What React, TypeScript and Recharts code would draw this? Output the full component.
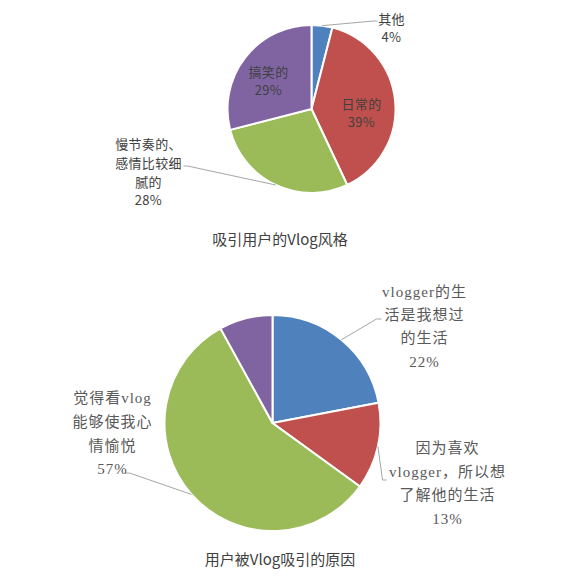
import React from "react";
import { PieChart, Pie, Cell } from "recharts";

const styleNames = ["其他", "日常的", "慢节奏的、感情比较细腻的", "搞笑的"];
const styleValues = [4, 39, 28, 29];
const styleLabelLines = [["其他", "4%"], ["日常的", "39%"], ["慢节奏的、", "感情比较细", "腻的", "28%"], ["搞笑的", "29%"]];

const reasonNames = ["vlogger的生活是我想过的生活", "因为喜欢vlogger，所以想了解他的生活", "觉得看vlog能够使我心情愉悦", "其他"];
const reasonValues = [22, 13, 57, 8];
const reasonLabelLines = [["vlogger的生", "活是我想过", "的生活", "22%"], ["因为喜欢", "vlogger，所以想", "了解他的生活", "13%"], ["觉得看vlog", "能够使我心", "情愉悦", "57%"], []];

const COLORS = ["#4F81BD", "#C0504D", "#9BBB59", "#8064A2"];

const styleData = styleNames.map((name, i) => ({ name, value: styleValues[i] }));
const reasonData = reasonNames.map((name, i) => ({ name, value: reasonValues[i] }));

// label layout relative to pie centre: text centre dx, line dys, optional leader end points
const styleLayout = [
  { dx: 80, dys: [-91, -73], leader: [[62, -88], [66, -88]] },
  { dx: 50, dys: [-6, 12] },
  { dx: -163, dys: [34, 53, 72, 90], leader: [[-124, 57], [-128, 57]] },
  { dx: -43, dys: [-38, -20] },
];
const reasonLayout = [
  { dx: 152, dys: [-131, -108, -85, -61], leader: [[104, -104], [109, -104]] },
  { dx: 175, dys: [25, 49, 72, 96], leader: [[110, 57], [114, 57]] },
  { dx: -160, dys: [-25, -1, 23, 46], leader: [[-143, 50], [-148, 50]] },
  { dx: 0, dys: [] },
];

const RAD = Math.PI / 180;

function makeLabel(layout: any[], lines: string[][], fill: string, fontFamily: string, fontSize: number, letterSpacing: number) {
  return (props: any) => {
    const { cx, cy, midAngle, outerRadius, index } = props;
    const L = layout[index];
    const ls = lines[index];
    if (!L || !ls || ls.length === 0) return null;
    const ex = cx + outerRadius * Math.cos(-midAngle * RAD);
    const ey = cy + outerRadius * Math.sin(-midAngle * RAD);
    let pts = "";
    if (L.leader) {
      pts = `${ex},${ey} ` + L.leader.map((p: number[]) => `${cx + p[0]},${cy + p[1]}`).join(" ");
    }
    return (
      <g>
        {L.leader && <polyline points={pts} fill="none" stroke="#A6A6A6" strokeWidth={1} />}
        {ls.map((t, k) => (
          <text
            key={k}
            x={cx + L.dx}
            y={cy + L.dys[k]}
            textAnchor="middle"
            dominantBaseline="central"
            fill={fill}
            fontFamily={fontFamily}
            fontSize={fontSize}
            letterSpacing={letterSpacing}
          >
            {t}
          </text>
        ))}
      </g>
    );
  };
}

const sansFont = "'Noto Sans CJK SC', 'Noto Sans', sans-serif";
const serifFont = "'Liberation Serif', 'Noto Sans CJK SC', serif";

export default function App() {
  return (
    <div style={{ position: "relative", width: 564, height: 577, background: "#fff" }}>
      <PieChart width={564} height={577} margin={{ top: 0, right: 0, bottom: 0, left: 0 }}>
        <Pie
          data={styleData}
          dataKey="value"
          nameKey="name"
          cx={303.5}
          cy={101}
          outerRadius={84}
          startAngle={90}
          endAngle={-270}
          stroke="#fff"
          strokeWidth={2}
          isAnimationActive={false}
          labelLine={false}
          label={makeLabel(styleLayout, styleLabelLines, "#404040", sansFont, 13, 0.3)}
        >
          {styleData.map((d, i) => (
            <Cell key={d.name} fill={COLORS[i]} />
          ))}
        </Pie>
        <Pie
          data={reasonData}
          dataKey="value"
          nameKey="name"
          cx={264.5}
          cy={415}
          outerRadius={108}
          startAngle={90}
          endAngle={-270}
          stroke="#fff"
          strokeWidth={2}
          isAnimationActive={false}
          labelLine={false}
          label={makeLabel(reasonLayout, reasonLabelLines, "#595959", serifFont, 15, 1)}
        >
          {reasonData.map((d, i) => (
            <Cell key={d.name} fill={COLORS[i]} />
          ))}
        </Pie>
      </PieChart>
      <div
        style={{
          position: "absolute",
          left: 0,
          width: 544,
          top: 220,
          textAlign: "center",
          fontFamily: sansFont,
          fontSize: 15,
          color: "#404040",
        }}
      >
        吸引用户的Vlog风格
      </div>
      <div
        style={{
          position: "absolute",
          left: 0,
          width: 544,
          top: 540,
          textAlign: "center",
          fontFamily: sansFont,
          fontSize: 15,
          color: "#404040",
        }}
      >
        用户被Vlog吸引的原因
      </div>
    </div>
  );
}
